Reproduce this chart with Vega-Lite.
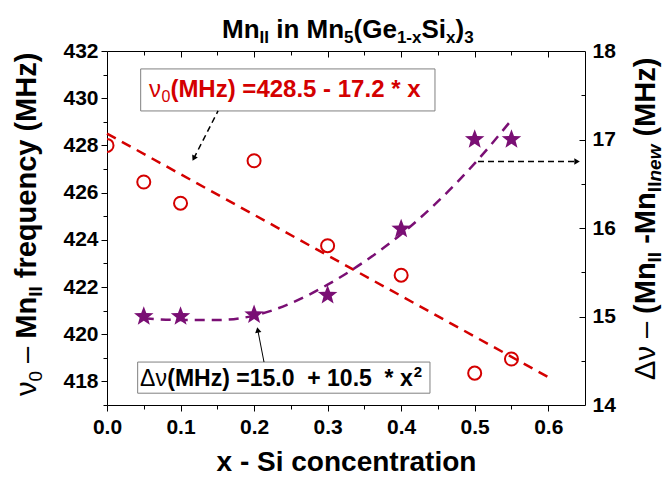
{
"$schema":"https://vega.github.io/schema/vega-lite/v6.json",
"width":478,"height":354,
"autosize":{"type":"none"},
"padding":{"left":107,"top":51,"right":86,"bottom":79},
"background":"white",
"config":{"view":{"stroke":"black","strokeWidth":1},"font":"Liberation Sans",
  "axis":{"grid":false,"domain":false,"tickColor":"black","labelColor":"black","labelFont":"Liberation Sans","labelFontSize":21,"labelFontWeight":"bold","labelFlush":false,"labelOverlap":false}},
"datasets":{
 "freq":[{"x":0,"v":428.0},{"x":0.05,"v":426.45},{"x":0.1,"v":425.55},{"x":0.2,"v":427.35},{"x":0.3,"v":423.75},{"x":0.4,"v":422.5},{"x":0.5,"v":418.35},{"x":0.55,"v":418.95}],
 "freqfit":[{"x":0,"v":428.5},{"x":0.6,"v":418.18}],
 "delta":[{"x":0.05,"w":15.0},{"x":0.1,"w":15.0},{"x":0.2,"w":15.02},{"x":0.3,"w":15.24},{"x":0.4,"w":15.99},{"x":0.5,"w":17.0},{"x":0.55,"w":17.0}],
 "deltafit":[{"x":0.05,"w":14.98},{"x":0.1,"w":14.96},{"x":0.15,"w":14.96},{"x":0.2,"w":15.01},{"x":0.25,"w":15.15},{"x":0.3,"w":15.36},{"x":0.35,"w":15.62},{"x":0.4,"w":15.93},{"x":0.45,"w":16.3},{"x":0.5,"w":16.73},{"x":0.55,"w":17.22}],
 "boxes":[{"x":0.0458,"x2":0.446,"y":431.24,"y2":429.46},{"x":0.0417,"x2":0.4392,"y":418.82,"y2":417.5}],
 "title_main":[{"t":"Mn","x":0.1564,"y":432.551},{"t":"in Mn","x":0.2301,"y":432.551},{"t":"(Ge","x":0.3353,"y":432.551},{"t":"Si","x":0.4277,"y":432.551},{"t":")","x":0.474,"y":432.551}],
 "title_sub":[{"t":"II","x":0.2074,"y":432.34},{"t":"5","x":0.3224,"y":432.34},{"t":"1-x","x":0.3942,"y":432.34},{"t":"x","x":0.4611,"y":432.34},{"t":"3","x":0.4859,"y":432.34}],
 "yt_reg":[{"t":"ν","x":-0.0965,"y":417.381},{"t":"–","x":-0.0965,"y":418.784},{"t":"Δν –","x":0.7452,"y":418.06}],
 "yt_reg_sub":[{"t":"0","x":-0.0884,"y":417.996}],
 "yt_bold":[{"t":"Mn","x":-0.0965,"y":419.81},{"t":"frequency (MHz)","x":-0.0965,"y":422.373},{"t":"(Mn","x":0.7452,"y":420.86},{"t":"-Mn","x":0.7452,"y":423.83},{"t":"(MHz)","x":0.7452,"y":428.373}],
 "yt_bold_sub":[{"t":"II","x":-0.0884,"y":421.585},{"t":"II","x":0.7533,"y":423.04},{"t":"II","x":0.7533,"y":426.02}],
 "yt_ital_sub":[{"t":"new","x":0.7533,"y":426.47}],
 "box1_reg":[{"t":"ν","x":0.0571,"y":430.051}],
 "box1_sub":[{"t":"0","x":0.0741,"y":429.84}],
 "box1_bold":[{"t":"(MHz) =428.5 - 17.2 * x","x":0.0862,"y":430.051}],
 "box2_reg":[{"t":"Δν","x":0.0449,"y":417.805}],
 "box2_bold":[{"t":"(MHz) =15.0\u00a0\u00a0+ 10.5\u00a0\u00a0* x","x":0.082,"y":417.805}],
 "box2_sup":[{"t":"2","x":0.4172,"y":418.19}],
 "arrow1":[{"x":0.151,"y":429.46},{"x":0.118,"y":427.45}],
 "arrow1_head":[{"x":0.118,"y":427.45}],
 "arrow2":[{"x":0.2135,"y":418.82},{"x":0.205,"y":420.18}],
 "arrow2_head":[{"x":0.205,"y":420.18}],
 "arrow3":[{"x":0.5045,"w":16.751},{"x":0.6392,"w":16.751}],
 "arrow3_head":[{"x":0.6392,"w":16.751}]
},
"layer":[
  {"data":{"name":"freq"},
   "mark":{"type":"point","shape":"circle","filled":false,"color":"#d40000","strokeWidth":2,"size":170,"opacity":1,"clip":true},
   "encoding":{
    "x":{"field":"x","type":"quantitative","scale":{"domain":[0,0.65],"nice":false,"zero":false},
      "axis":{"orient":"bottom","values":[0,0.1,0.2,0.3,0.4,0.5,0.6],"format":".1f","tickSize":6,"labelPadding":5,
        "title":"x - Si concentration","titleFont":"Liberation Sans","titleFontSize":28,"titleFontWeight":"bold","titleColor":"black","titlePadding":11}},
    "y":{"field":"v","type":"quantitative","scale":{"domain":[417,432],"nice":false,"zero":false},
      "axis":{"orient":"left","values":[418,420,422,424,426,428,430,432],"tickSize":6,"labelPadding":3,"title":null}}
   }},
  {"data":{"name":"freqfit"},
   "mark":{"type":"line","color":"#d40000","strokeWidth":2.5,"strokeDash":[10,7]},
   "encoding":{
    "x":{"field":"x","type":"quantitative","scale":{"domain":[0,0.65],"nice":false,"zero":false},
      "axis":{"orient":"bottom","values":[0.05,0.15,0.25,0.35,0.45,0.55],"labels":false,"tickSize":4,"title":null}},
    "y":{"field":"v","type":"quantitative","scale":{"domain":[417,432],"nice":false,"zero":false},
      "axis":{"orient":"left","values":[417,419,421,423,425,427,429,431],"labels":false,"tickSize":4,"title":null}}}},
  {"data":{"name":"delta"},
   "mark":{"type":"point","shape":"M0,-1L0.247,-0.34L0.951,-0.309L0.399,0.13L0.588,0.809L0,0.42L-0.588,0.809L-0.399,0.13L-0.951,-0.309L-0.247,-0.34Z","filled":true,"color":"#7a0f74","size":420,"opacity":1},
   "encoding":{
    "x":{"field":"x","type":"quantitative","scale":{"domain":[0,0.65],"nice":false,"zero":false},
      "axis":{"orient":"top","values":[0.1,0.2,0.3,0.4,0.5,0.6],"labels":false,"tickSize":6,"offset":-6,"title":null}},
    "y":{"field":"w","type":"quantitative","scale":{"domain":[14,18],"nice":false,"zero":false},
      "axis":{"orient":"right","values":[14,15,16,17,18],"ticks":false,"labelPadding":7,"title":null}}
   }},
  {"data":{"name":"deltafit"},
   "mark":{"type":"line","color":"#7a0f74","strokeWidth":2.5,"strokeDash":[10,7],"interpolate":"monotone"},
   "encoding":{
    "x":{"field":"x","type":"quantitative","scale":{"domain":[0,0.65],"nice":false,"zero":false},
      "axis":{"orient":"top","values":[0.05,0.15,0.25,0.35,0.45,0.55],"labels":false,"tickSize":4,"offset":-4,"title":null}},
    "y":{"field":"w","type":"quantitative","scale":{"domain":[14,18],"nice":false,"zero":false},
      "axis":{"orient":"right","values":[14.5,15.5,16.5,17.5],"labels":false,"tickSize":4,"offset":-4,"title":null}}}},
  {"data":{"name":"arrow3"},
   "mark":{"type":"line","color":"black","strokeWidth":1.5,"strokeDash":[6,4]},
   "encoding":{"x":{"field":"x","type":"quantitative","scale":{"domain":[0,0.65],"nice":false,"zero":false},"axis":null},
     "y":{"field":"w","type":"quantitative","scale":{"domain":[14,18],"nice":false,"zero":false},
       "axis":{"orient":"right","values":[15,16,17],"labels":false,"tickSize":6,"offset":-6,"title":null}}}},
  {"data":{"name":"arrow3_head"},
   "mark":{"type":"point","shape":"triangle-right","filled":true,"color":"black","size":40,"opacity":1},
   "encoding":{"x":{"field":"x","type":"quantitative","scale":{"domain":[0,0.65],"nice":false,"zero":false},"axis":null},
     "y":{"field":"w","type":"quantitative","scale":{"domain":[14,18],"nice":false,"zero":false},"axis":null}}},
  {"data":{"name":"boxes"},
   "mark":{"type":"rect","fill":"white","stroke":"#808080","strokeWidth":1},
   "encoding":{"x":{"field":"x","type":"quantitative","scale":{"domain":[0,0.65],"nice":false,"zero":false},"axis":null},"x2":{"field":"x2"},
     "y":{"field":"y","type":"quantitative","scale":{"domain":[417,432],"nice":false,"zero":false},"axis":null},"y2":{"field":"y2"}}},
  {"data":{"name":"arrow1"},
   "mark":{"type":"line","color":"black","strokeWidth":1.5,"strokeDash":[6,4]},
   "encoding":{"x":{"field":"x","type":"quantitative","scale":{"domain":[0,0.65],"nice":false,"zero":false},"axis":null},
     "y":{"field":"y","type":"quantitative","scale":{"domain":[417,432],"nice":false,"zero":false},"axis":null}}},
  {"data":{"name":"arrow1_head"},
   "mark":{"type":"point","shape":"triangle-down","filled":true,"color":"black","size":40,"angle":27,"opacity":1},
   "encoding":{"x":{"field":"x","type":"quantitative","scale":{"domain":[0,0.65],"nice":false,"zero":false},"axis":null},
     "y":{"field":"y","type":"quantitative","scale":{"domain":[417,432],"nice":false,"zero":false},"axis":null}}},
  {"data":{"name":"arrow2"},
   "mark":{"type":"line","color":"black","strokeWidth":1},
   "encoding":{"x":{"field":"x","type":"quantitative","scale":{"domain":[0,0.65],"nice":false,"zero":false},"axis":null},
     "y":{"field":"y","type":"quantitative","scale":{"domain":[417,432],"nice":false,"zero":false},"axis":null}}},
  {"data":{"name":"arrow2_head"},
   "mark":{"type":"point","shape":"triangle-up","filled":true,"color":"black","size":40,"angle":349,"opacity":1},
   "encoding":{"x":{"field":"x","type":"quantitative","scale":{"domain":[0,0.65],"nice":false,"zero":false},"axis":null},
     "y":{"field":"y","type":"quantitative","scale":{"domain":[417,432],"nice":false,"zero":false},"axis":null}}},
  {"data":{"name":"title_main"},
   "mark":{"type":"text","align":"left","baseline":"alphabetic","fontSize":26,"fontWeight":"bold","color":"black"},
   "encoding":{"text":{"field":"t"},"x":{"field":"x","type":"quantitative","scale":{"domain":[0,0.65],"nice":false,"zero":false},"axis":null},
     "y":{"field":"y","type":"quantitative","scale":{"domain":[417,432],"nice":false,"zero":false},"axis":null}}},
  {"data":{"name":"title_sub"},
   "mark":{"type":"text","align":"left","baseline":"alphabetic","fontSize":17,"fontWeight":"bold","color":"black"},
   "encoding":{"text":{"field":"t"},"x":{"field":"x","type":"quantitative","scale":{"domain":[0,0.65],"nice":false,"zero":false},"axis":null},
     "y":{"field":"y","type":"quantitative","scale":{"domain":[417,432],"nice":false,"zero":false},"axis":null}}},
  {"data":{"name":"yt_reg"},
   "mark":{"type":"text","align":"left","baseline":"alphabetic","angle":270,"fontSize":29,"fontWeight":"normal","color":"black"},
   "encoding":{"text":{"field":"t"},"x":{"field":"x","type":"quantitative","scale":{"domain":[0,0.65],"nice":false,"zero":false},"axis":null},
     "y":{"field":"y","type":"quantitative","scale":{"domain":[417,432],"nice":false,"zero":false},"axis":null}}},
  {"data":{"name":"yt_reg_sub"},
   "mark":{"type":"text","align":"left","baseline":"alphabetic","angle":270,"fontSize":19,"fontWeight":"normal","color":"black"},
   "encoding":{"text":{"field":"t"},"x":{"field":"x","type":"quantitative","scale":{"domain":[0,0.65],"nice":false,"zero":false},"axis":null},
     "y":{"field":"y","type":"quantitative","scale":{"domain":[417,432],"nice":false,"zero":false},"axis":null}}},
  {"data":{"name":"yt_bold"},
   "mark":{"type":"text","align":"left","baseline":"alphabetic","angle":270,"fontSize":29,"fontWeight":"bold","color":"black"},
   "encoding":{"text":{"field":"t"},"x":{"field":"x","type":"quantitative","scale":{"domain":[0,0.65],"nice":false,"zero":false},"axis":null},
     "y":{"field":"y","type":"quantitative","scale":{"domain":[417,432],"nice":false,"zero":false},"axis":null}}},
  {"data":{"name":"yt_bold_sub"},
   "mark":{"type":"text","align":"left","baseline":"alphabetic","angle":270,"fontSize":19,"fontWeight":"bold","color":"black"},
   "encoding":{"text":{"field":"t"},"x":{"field":"x","type":"quantitative","scale":{"domain":[0,0.65],"nice":false,"zero":false},"axis":null},
     "y":{"field":"y","type":"quantitative","scale":{"domain":[417,432],"nice":false,"zero":false},"axis":null}}},
  {"data":{"name":"yt_ital_sub"},
   "mark":{"type":"text","align":"left","baseline":"alphabetic","angle":270,"fontSize":19,"fontWeight":"bold","fontStyle":"italic","color":"black"},
   "encoding":{"text":{"field":"t"},"x":{"field":"x","type":"quantitative","scale":{"domain":[0,0.65],"nice":false,"zero":false},"axis":null},
     "y":{"field":"y","type":"quantitative","scale":{"domain":[417,432],"nice":false,"zero":false},"axis":null}}},
  {"data":{"name":"box1_reg"},
   "mark":{"type":"text","align":"left","baseline":"alphabetic","fontSize":24,"fontWeight":"normal","color":"#d40000"},
   "encoding":{"text":{"field":"t"},"x":{"field":"x","type":"quantitative","scale":{"domain":[0,0.65],"nice":false,"zero":false},"axis":null},
     "y":{"field":"y","type":"quantitative","scale":{"domain":[417,432],"nice":false,"zero":false},"axis":null}}},
  {"data":{"name":"box1_sub"},
   "mark":{"type":"text","align":"left","baseline":"alphabetic","fontSize":16,"fontWeight":"normal","color":"#d40000"},
   "encoding":{"text":{"field":"t"},"x":{"field":"x","type":"quantitative","scale":{"domain":[0,0.65],"nice":false,"zero":false},"axis":null},
     "y":{"field":"y","type":"quantitative","scale":{"domain":[417,432],"nice":false,"zero":false},"axis":null}}},
  {"data":{"name":"box1_bold"},
   "mark":{"type":"text","align":"left","baseline":"alphabetic","fontSize":24,"fontWeight":"bold","color":"#d40000"},
   "encoding":{"text":{"field":"t"},"x":{"field":"x","type":"quantitative","scale":{"domain":[0,0.65],"nice":false,"zero":false},"axis":null},
     "y":{"field":"y","type":"quantitative","scale":{"domain":[417,432],"nice":false,"zero":false},"axis":null}}},
  {"data":{"name":"box2_reg"},
   "mark":{"type":"text","align":"left","baseline":"alphabetic","fontSize":23,"fontWeight":"normal","color":"black"},
   "encoding":{"text":{"field":"t"},"x":{"field":"x","type":"quantitative","scale":{"domain":[0,0.65],"nice":false,"zero":false},"axis":null},
     "y":{"field":"y","type":"quantitative","scale":{"domain":[417,432],"nice":false,"zero":false},"axis":null}}},
  {"data":{"name":"box2_bold"},
   "mark":{"type":"text","align":"left","baseline":"alphabetic","fontSize":23,"fontWeight":"bold","color":"black"},
   "encoding":{"text":{"field":"t"},"x":{"field":"x","type":"quantitative","scale":{"domain":[0,0.65],"nice":false,"zero":false},"axis":null},
     "y":{"field":"y","type":"quantitative","scale":{"domain":[417,432],"nice":false,"zero":false},"axis":null}}},
  {"data":{"name":"box2_sup"},
   "mark":{"type":"text","align":"left","baseline":"alphabetic","fontSize":15,"fontWeight":"bold","color":"black"},
   "encoding":{"text":{"field":"t"},"x":{"field":"x","type":"quantitative","scale":{"domain":[0,0.65],"nice":false,"zero":false},"axis":null},
     "y":{"field":"y","type":"quantitative","scale":{"domain":[417,432],"nice":false,"zero":false},"axis":null}}}
],
"resolve":{"scale":{"y":"independent"},"axis":{"x":"independent","y":"independent"}}
}
